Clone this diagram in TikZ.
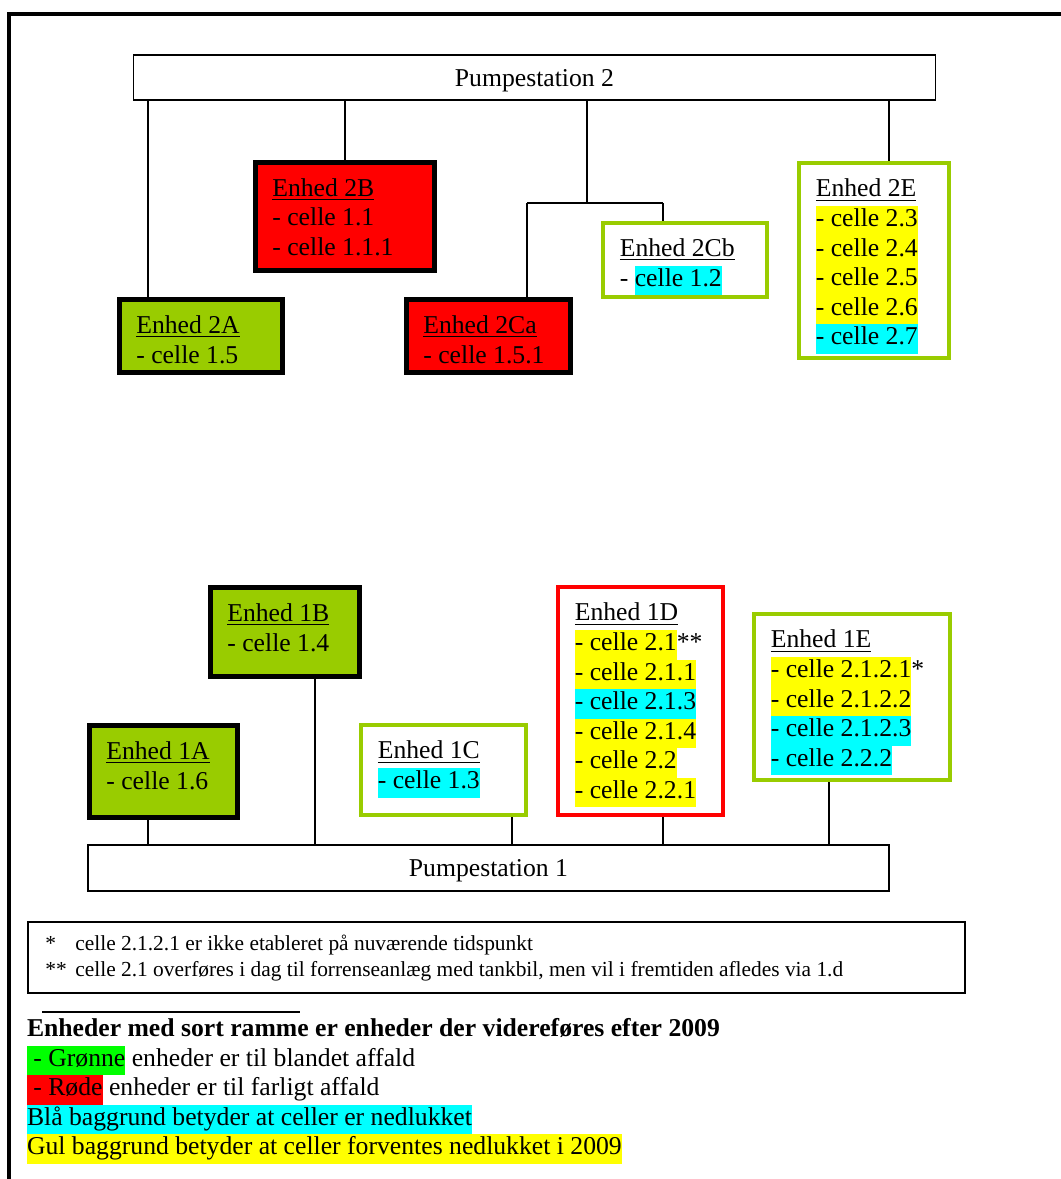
\documentclass[tikz,border=0pt]{standalone}
\usepackage{fontspec}
\setmainfont{Liberation Serif}
\usepackage{xcolor}
\usepackage{tikz}
\usetikzlibrary{positioning,fit}
\definecolor{unitgreen}{HTML}{99CC00}
\definecolor{keygreen}{HTML}{00FF00}
\definecolor{closedcyan}{HTML}{00FFFF}
\definecolor{dueyellow}{HTML}{FFFF00}
\setlength{\fboxsep}{0pt}
\newcommand{\cellstrut}{\rule[-4.2pt]{0pt}{13.8pt}}
\newcommand{\cellline}[1]{\cellstrut#1}
\newcommand{\cellbg}[2]{\colorbox{#1}{\cellstrut#2}}
\newcommand{\unittitle}[1]{\cellstrut\underline{#1}}
\tikzset{
  unit/.style={rectangle, line width=2.25pt, inner sep=0pt},
  blackgreen/.style={unit, draw=black, fill=unitgreen},
  blackred/.style={unit, draw=black, fill=red},
  greenframe/.style={unit, draw=unitgreen, fill=white},
  redframe/.style={unit, draw=red, fill=white},
  celltext/.style={inner sep=0pt, outer sep=0pt, align=left, anchor=north west,
                   font=\fontsize{12}{13.8}\selectfont},
  psbox/.style={draw, line width=0.65pt, inner sep=0pt, text height=10.8pt, text depth=2.6pt,
                font=\fontsize{12}{13.8}\selectfont},
  notetext/.style={inner sep=0pt, anchor=base west, font=\fontsize{10}{12}\selectfont}
}

\begin{document}
\begin{tikzpicture}[x=0.4673pt, y=-0.4673pt]
  \useasboundingbox (0,0) rectangle (1061,1179);
  \draw[line width=2pt] (8.8,1179) -- (8.8,14.3) -- (1061,14.3);

  \begin{scope}
    % Pumpestation 2
    \node[psbox, minimum width=374.6pt, minimum height=21pt] (ps2) at (534.5,77.5) {Pumpestation 2};
    \node[blackred, fit={(255.5,162.5) (434.5,270.5)}] (u2B) {};
    \node[blackgreen, fit={(119.5,299.5) (282.5,372.5)}] (u2A) {};
    \node[blackred, fit={(406.5,299.5) (570.5,372.5)}] (u2Ca) {};
    \node[greenframe, fit={(603,223) (767,297)}] (u2Cb) {};
    \node[greenframe, fit={(799,163) (949,358)}] (u2E) {};

    \node[celltext, below right=7.4pt and 9pt of u2A.north west] (t2A)
      {\unittitle{Enhed 2A}\\\cellline{- celle 1.5}};
    \node[celltext, below right=7.2pt and 9pt of u2B.north west] (t2B)
      {\unittitle{Enhed 2B}\\\cellline{- celle 1.1}\\\cellline{- celle 1.1.1}};
    \node[celltext, below right=7.4pt and 9pt of u2Ca.north west] (t2Ca)
      {\unittitle{Enhed 2Ca}\\\cellline{- celle 1.5.1}};
    \node[celltext, below right=7.2pt and 9pt of u2Cb.north west] (t2Cb)
      {\unittitle{Enhed 2Cb}\\\cellstrut- \cellbg{closedcyan}{celle 1.2}};
    \node[celltext, below right=7.4pt and 9pt of u2E.north west] (t2E)
      {\unittitle{Enhed 2E}\\
       \cellbg{dueyellow}{- celle 2.3}\\
       \cellbg{dueyellow}{- celle 2.4}\\
       \cellbg{dueyellow}{- celle 2.5}\\
       \cellbg{dueyellow}{- celle 2.6}\\
       \cellbg{closedcyan}{- celle 2.7}};

    % Pumpestation 1
    \node[psbox, minimum width=374.3pt, minimum height=21.5pt] (ps1) at (488.5,868) {Pumpestation 1};
    \node[blackgreen, fit={(210.5,587.5) (359.5,676.5)}] (u1B) {};
    \node[blackgreen, fit={(89.5,725.5) (237.5,817.5)}] (u1A) {};
    \node[greenframe, fit={(361,725) (526,815)}] (u1C) {};
    \node[redframe, fit={(558,587) (723,815)}] (u1D) {};
    \node[greenframe, fit={(754,614) (950,780)}] (u1E) {};

    \node[celltext, below right=7.4pt and 9pt of u1A.north west] (t1A)
      {\unittitle{Enhed 1A}\\\cellline{- celle 1.6}};
    \node[celltext, below right=7.4pt and 9pt of u1B.north west] (t1B)
      {\unittitle{Enhed 1B}\\\cellline{- celle 1.4}};
    \node[celltext, below right=7.4pt and 9pt of u1C.north west] (t1C)
      {\unittitle{Enhed 1C}\\\cellbg{closedcyan}{- celle 1.3}};
    \node[celltext, below right=7.4pt and 9pt of u1D.north west] (t1D)
      {\unittitle{Enhed 1D}\\
       \cellbg{dueyellow}{- celle 2.1}**\\
       \cellbg{dueyellow}{- celle 2.1.1}\\
       \cellbg{closedcyan}{- celle 2.1.3}\\
       \cellbg{dueyellow}{- celle 2.1.4}\\
       \cellbg{dueyellow}{- celle 2.2}\\
       \cellbg{dueyellow}{- celle 2.2.1}};
    \node[celltext, below right=7.4pt and 9pt of u1E.north west] (t1E)
      {\unittitle{Enhed 1E}\\
       \cellbg{dueyellow}{- celle 2.1.2.1}*\\
       \cellbg{dueyellow}{- celle 2.1.2.2}\\
       \cellbg{closedcyan}{- celle 2.1.2.3}\\
       \cellbg{closedcyan}{- celle 2.2.2}};
  \end{scope}

  \coordinate (x2A) at (148,0);
  \coordinate (x2B) at (345,0);
  \coordinate (x2C) at (587,0);
  \coordinate (k2C) at (587,203);
  \coordinate (k2Ca) at (527,203);
  \coordinate (k2Cb) at (663,203);
  \coordinate (x2E) at (889,0);
  \coordinate (x1A) at (148,0);
  \coordinate (x1B) at (315,0);
  \coordinate (x1C) at (512,0);
  \coordinate (x1D) at (663,0);
  \coordinate (x1E) at (829,0);

  \begin{scope}[every edge/.style={draw=black, line width=0.65pt}]
    \path (ps2.south -| x2A) edge (u2A.north -| x2A);
    \path (ps2.south -| x2B) edge (u2B.north -| x2B);
    \path (ps2.south -| x2C) edge (k2C);
    \path (k2Ca) edge (k2Cb);
    \path (k2Ca) edge (u2Ca.north -| k2Ca);
    \path (k2Cb) edge (u2Cb.north -| k2Cb);
    \path (ps2.south -| x2E) edge (u2E.north -| x2E);

    \path (u1A.south -| x1A) edge (ps1.north -| x1A);
    \path (u1B.south -| x1B) edge (ps1.north -| x1B);
    \path (u1C.south -| x1C) edge (ps1.north -| x1C);
    \path (u1D.south -| x1D) edge (ps1.north -| x1D);
    \path (u1E.south -| x1E) edge (ps1.north -| x1E);
  \end{scope}

  % notes
  \node[draw, line width=0.65pt, inner sep=0pt, fit={(28,922) (965,993)}] (notes) {};
  \node[notetext] (fn1) at (45,950) {\makebox[14pt][l]{*}celle 2.1.2.1 er ikke etableret på nuværende tidspunkt};
  \node[notetext] (fn2) at (45,976) {\makebox[14pt][l]{**}celle 2.1 overføres i dag til forrenseanlæg med tankbil, men vil i fremtiden afledes via 1.d};

  \draw[line width=0.65pt] (42,1012) -- (300,1012);
  \node[celltext] (legend) at (27,1016)
    {\cellstrut\textbf{Enheder med sort ramme er enheder der videreføres efter 2009}\\
     \cellbg{keygreen}{\ - Grønne} enheder er til blandet affald\\
     \cellbg{red}{\ - Røde} enheder er til farligt affald\\
     \cellbg{closedcyan}{Blå baggrund betyder at celler er nedlukket}\\
     \cellbg{dueyellow}{Gul baggrund betyder at celler forventes nedlukket i 2009}};
\end{tikzpicture}
\end{document}
